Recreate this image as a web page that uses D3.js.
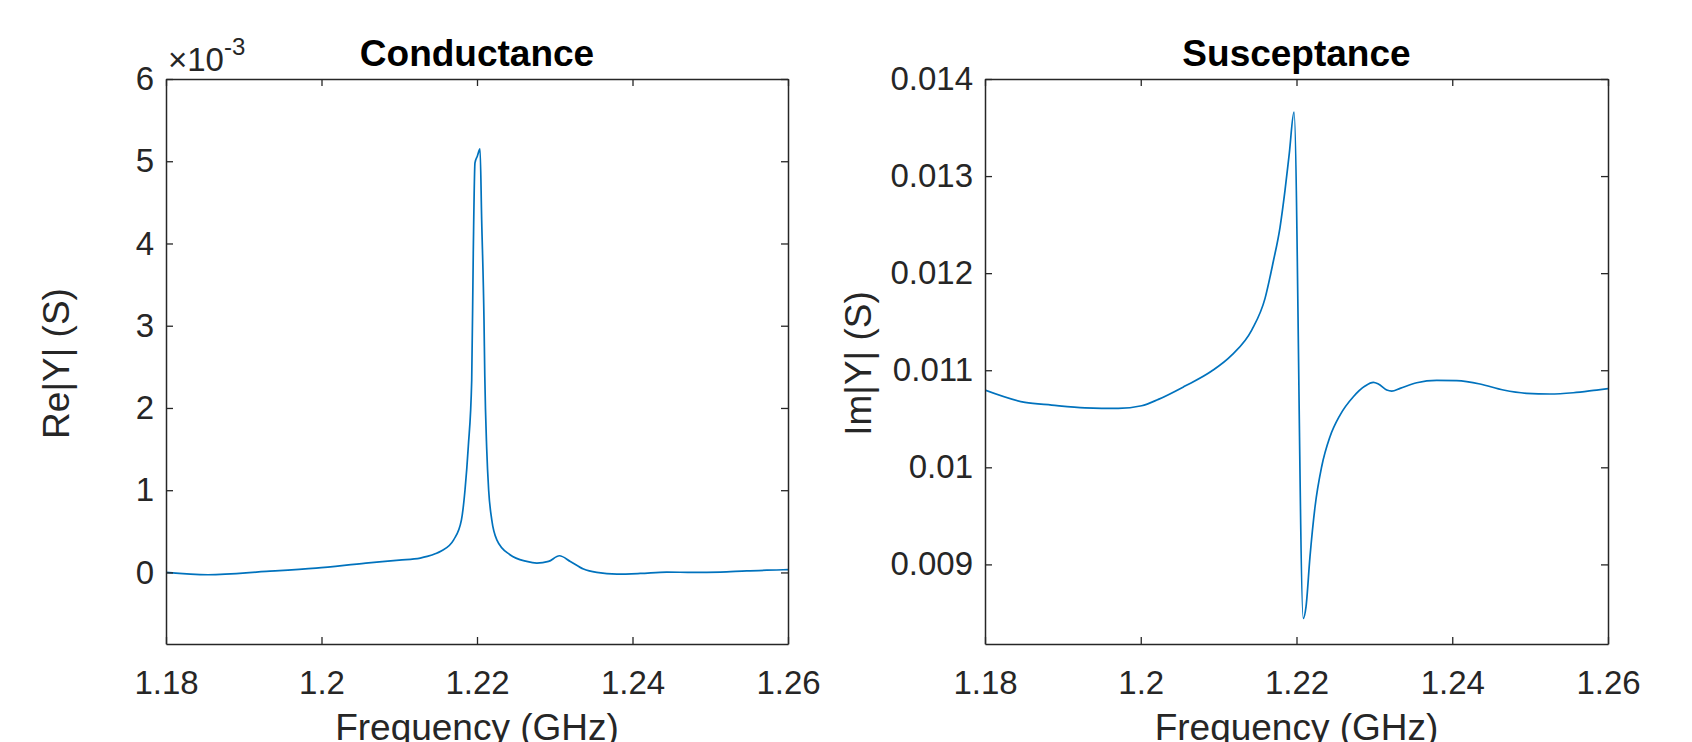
<!DOCTYPE html>
<html>
<head>
<meta charset="utf-8">
<script src="https://cdn.jsdelivr.net/npm/d3@7"></script>
<style>
  html, body { margin: 0; padding: 0; background: #fff; }
  svg { display: block; }
  text { font-family: "Liberation Sans", Arial, Helvetica, sans-serif; }
</style>
</head>
<body>
<svg id="chart" width="1692" height="742"></svg>
<script>
// ---------------- data ----------------
const xTicks = [1.18, 1.2, 1.22, 1.24, 1.26];
const xTickLabels = ["1.18", "1.2", "1.22", "1.24", "1.26"];

// Conductance Re|Y| (S)
const condFreq = [1.18, 1.1854, 1.1929, 1.1993, 1.2057, 1.2100, 1.2127, 1.2136, 1.2147, 1.2154,
  1.2170, 1.2180, 1.21846, 1.21888, 1.21932, 1.21952, 1.21974, 1.22004, 1.22039, 1.2206, 1.2209, 1.2210,
  1.22125, 1.2215, 1.2219, 1.22255, 1.22424, 1.22639, 1.2277, 1.2292, 1.2306, 1.2320, 1.2337,
  1.2354, 1.2380, 1.2410, 1.2444, 1.2478, 1.2513, 1.2547, 1.2594, 1.26];
const condValues = [0.000000, -0.000028, 0.000012, 0.000053, 0.000114, 0.000150, 0.000175, 0.000195, 0.000230, 0.000262,
  0.000397, 0.000640, 0.001005, 0.001530, 0.002340, 0.003880, 0.004980, 0.005060, 0.005150, 0.004290, 0.003070, 0.002400,
  0.001500, 0.001000, 0.000640, 0.000397, 0.000215, 0.000134, 0.000114, 0.000134, 0.000203, 0.000134, 0.000041,
  0.000000, -0.000020, -0.000012, 0.000005, 0.000000, 0.000005, 0.000020, 0.000033, 0.000035];
const condTicks = [0, 0.001, 0.002, 0.003, 0.004, 0.005, 0.006];
const condTickLabels = ["0", "1", "2", "3", "4", "5", "6"];

// Susceptance Im|Y| (S)
const suscFreq = [1.18, 1.18514, 1.18856, 1.19284, 1.19712, 1.20012, 1.20226, 1.20568, 1.20911, 1.21168,
  1.21425, 1.21596, 1.21702, 1.21788, 1.21852, 1.21907, 1.21968, 1.22087, 1.22122, 1.22173,
  1.22238, 1.22323, 1.2243, 1.22559, 1.2273, 1.2288, 1.22987, 1.23051, 1.23159, 1.23223,
  1.2333, 1.23544, 1.238, 1.24057, 1.24356, 1.24656, 1.24956, 1.25255, 1.25554, 1.25854, 1.26];
const suscValues = [0.010796, 0.010669, 0.010641, 0.010613, 0.010607, 0.010634, 0.010700, 0.010837, 0.010992, 0.011156,
  0.011414, 0.011740, 0.012120, 0.012470, 0.012850, 0.013230, 0.013658, 0.008444, 0.008563, 0.009078,
  0.009594, 0.010006, 0.010315, 0.010538, 0.010727, 0.010837, 0.010875, 0.010858, 0.010796, 0.010785,
  0.010813, 0.010871, 0.010896, 0.010892, 0.010858, 0.010796, 0.010762, 0.010755, 0.010768, 0.010796, 0.010810];
const suscTicks = [0.009, 0.010, 0.011, 0.012, 0.013, 0.014];
const suscTickLabels = ["0.009", "0.01", "0.011", "0.012", "0.013", "0.014"];

// ---------------- drawing ----------------
const svg = d3.select("#chart");
const axisColor = "#262626";
const lineColor = "#0072BD";
const tickFont = 33, labelFont = 37, titleFont = 37;

const panels = [
  { title: "Conductance", ylabel: "Re|Y| (S)", freq: condFreq, vals: condValues,
    yDomain: [-0.00087, 0.006], yTicks: condTicks, yTickLabels: condTickLabels,
    left: 166, right: 788, top: 79, bottom: 644, ylabelX: 69, exponent: true },
  { title: "Susceptance", ylabel: "Im|Y| (S)", freq: suscFreq, vals: suscValues,
    yDomain: [0.00818, 0.014], yTicks: suscTicks, yTickLabels: suscTickLabels,
    left: 985, right: 1608, top: 79, bottom: 644, ylabelX: 871, exponent: false }
];

panels.forEach((p, i) => {
  const x = d3.scaleLinear().domain([1.18, 1.26]).range([p.left, p.right]);
  const y = d3.scaleLinear().domain(p.yDomain).range([p.bottom, p.top]);
  const g = svg.append("g");

  const clipId = "clip" + i;
  svg.append("defs").append("clipPath").attr("id", clipId)
    .append("rect").attr("x", p.left).attr("y", p.top)
    .attr("width", p.right - p.left).attr("height", p.bottom - p.top);

  const pts = p.freq.map((f, k) => [f, p.vals[k]]);
  g.append("path")
    .datum(pts)
    .attr("clip-path", `url(#${clipId})`)
    .attr("fill", "none")
    .attr("stroke", lineColor)
    .attr("stroke-width", 1.7)
    .attr("stroke-linejoin", "round")
    .attr("d", d3.line().x(d => x(d[0])).y(d => y(d[1])).curve(d3.curveMonotoneX));

  const xLab = d => xTickLabels[xTicks.indexOf(d)];
  const yLab = d => p.yTickLabels[p.yTicks.indexOf(d)];

  const gb = g.append("g").attr("transform", `translate(0,${p.bottom})`)
    .call(d3.axisBottom(x).tickValues(xTicks).tickFormat(xLab)
      .tickSizeInner(-7).tickSizeOuter(0).tickPadding(27));
  const gl = g.append("g").attr("transform", `translate(${p.left},0)`)
    .call(d3.axisLeft(y).tickValues(p.yTicks).tickFormat(yLab)
      .tickSizeInner(-7).tickSizeOuter(0).tickPadding(12));
  const gt = g.append("g").attr("transform", `translate(0,${p.top})`)
    .call(d3.axisTop(x).tickValues(xTicks).tickFormat("")
      .tickSizeInner(-7).tickSizeOuter(0));
  const gr = g.append("g").attr("transform", `translate(${p.right},0)`)
    .call(d3.axisRight(y).tickValues(p.yTicks).tickFormat("")
      .tickSizeInner(-7).tickSizeOuter(0));

  [gb, gl, gt, gr].forEach(a => {
    a.select(".domain").attr("stroke", axisColor).attr("stroke-width", 1.5);
    a.selectAll(".tick line").attr("stroke", axisColor).attr("stroke-width", 1.3);
    a.selectAll(".tick text").attr("fill", axisColor)
      .style("font-size", tickFont + "px")
      .style("font-family", '"Liberation Sans", Arial, Helvetica, sans-serif');
  });

  g.append("text")
    .attr("x", (p.left + p.right) / 2).attr("y", 66)
    .attr("text-anchor", "middle")
    .attr("font-weight", "bold")
    .attr("fill", "#000")
    .style("font-size", titleFont + "px")
    .text(p.title);

  g.append("text")
    .attr("x", (p.left + p.right) / 2).attr("y", 740)
    .attr("text-anchor", "middle")
    .attr("fill", axisColor)
    .style("font-size", labelFont + "px")
    .text("Frequency (GHz)");

  const cy = (p.top + p.bottom) / 2 + 2;
  g.append("text")
    .attr("transform", `translate(${p.ylabelX},${cy}) rotate(-90)`)
    .attr("text-anchor", "middle")
    .attr("fill", axisColor)
    .style("font-size", labelFont + "px")
    .text(p.ylabel);

  if (p.exponent) {
    const t = g.append("text")
      .attr("x", p.left + 2).attr("y", 71)
      .attr("fill", axisColor)
      .style("font-size", "33px");
    t.append("tspan").text("\u00D710");
    t.append("tspan").attr("dy", -16).style("font-size", "24px").text("-3");
  }
});
</script>
</body>
</html>
